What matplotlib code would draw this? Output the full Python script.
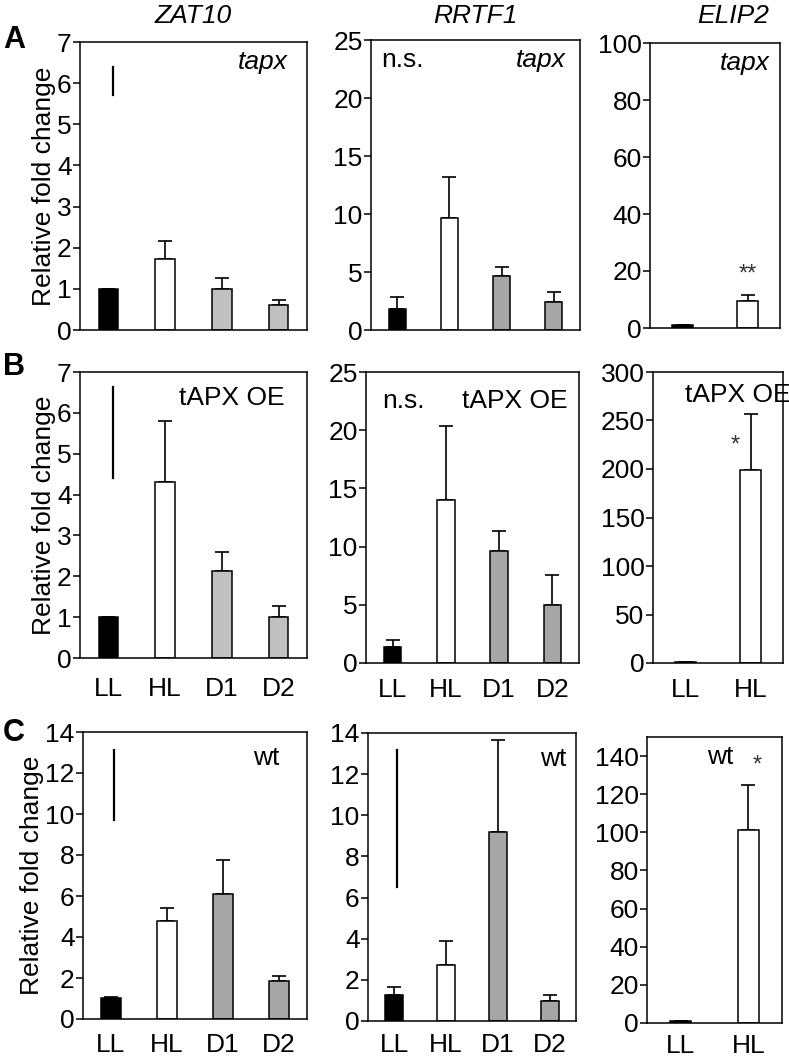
import matplotlib
matplotlib.use("Agg")
import matplotlib.pyplot as plt

plt.rcParams['font.family'] = ['Liberation Sans', 'DejaVu Sans']

# categories
cats4 = ['LL', 'HL', 'D1', 'D2']
cats2 = ['LL', 'HL']

# row A: tapx
zat10_tapx = [1.0, 1.72, 0.99, 0.61]
zat10_tapx_err = [0.0, 0.44, 0.27, 0.13]
rrtf1_tapx = [1.78, 9.68, 4.68, 2.39]
rrtf1_tapx_err = [1.04, 3.52, 0.78, 0.91]
elip2_tapx = [1.0, 9.4]
elip2_tapx_err = [0.0, 2.3]

# row B: tAPX OE
zat10_oe = [1.0, 4.31, 2.13, 1.0]
zat10_oe_err = [0.0, 1.48, 0.46, 0.27]
rrtf1_oe = [1.37, 14.0, 9.66, 4.95]
rrtf1_oe_err = [0.57, 6.34, 1.68, 2.64]
elip2_oe = [1.0, 198.9]
elip2_oe_err = [0.0, 58.0]

# row C: wt
zat10_wt = [1.01, 4.80, 6.11, 1.86]
zat10_wt_err = [0.08, 0.61, 1.66, 0.26]
rrtf1_wt = [1.28, 2.71, 9.18, 0.97]
rrtf1_wt_err = [0.38, 1.19, 4.50, 0.31]
elip2_wt = [1.0, 101.2]
elip2_wt_err = [0.0, 23.6]

# stray vertical marks (x, y bottom, y top)
vline_zat10_tapx = (0.08, 5.72, 6.39)
vline_zat10_oe = (0.08, 4.40, 6.63)
vline_zat10_wt = (0.05, 9.69, 13.14)
vline_rrtf1_wt = (0.06, 6.50, 13.19)

W, H = 789, 1064
fig = plt.figure(figsize=(W / 100, H / 100), dpi=100)


def rect(x0, x1, y0, y1):
    return [x0 / W, 1 - y1 / H, (x1 - x0) / W, (y1 - y0) / H]


FS = 19


def panel(r, vals, errs, cats, colors, ylim, yticks, xlabels, width, xpad=14):
    ax = fig.add_axes(rect(*r))
    x = list(range(len(cats)))
    ax.bar(x, vals, width=width, color=colors, edgecolor='black', linewidth=1.1, zorder=2)
    lower = [0] * len(errs)
    ax.errorbar(x, vals, yerr=[lower, errs], fmt='none', ecolor='black',
                elinewidth=1.2, capsize=5, capthick=1.2, zorder=1)
    ax.set_xlim(-0.5, len(cats) - 0.5)
    ax.set_ylim(*ylim)
    ax.set_yticks(yticks)
    ax.set_xticks(x)
    if xlabels:
        ax.set_xticklabels(cats)
    else:
        ax.set_xticklabels([])
    ax.tick_params(axis='x', length=0, pad=xpad, labelsize=FS)
    ax.tick_params(axis='y', length=5, width=1.1, pad=1, labelsize=FS, direction='out')
    for s in ax.spines.values():
        s.set_linewidth(1.1)
    return ax


light = '#c0c0c0'
dark = '#a6a6a6'
c4_light = ['black', 'white', light, light]
c4_dark = ['black', 'white', dark, dark]
c2 = ['black', 'white']

# ---- row A
a1 = panel((80, 307, 42, 330), zat10_tapx, zat10_tapx_err, cats4, c4_light,
           (0, 7), range(0, 8), False, 0.34)
a2 = panel((371, 580, 40, 330), rrtf1_tapx, rrtf1_tapx_err, cats4, c4_dark,
           (0, 25), range(0, 26, 5), False, 0.33)
a3 = panel((650, 780, 43, 328), elip2_tapx, elip2_tapx_err, cats2, c2,
           (0, 100), range(0, 101, 20), False, 0.31)

# ---- row B
b1 = panel((80, 307, 372, 658), zat10_oe, zat10_oe_err, cats4, c4_light,
           (0, 7), range(0, 8), True, 0.34, xpad=14)
b2 = panel((366, 579, 372, 663), rrtf1_oe, rrtf1_oe_err, cats4, c4_dark,
           (0, 25), range(0, 26, 5), True, 0.33, xpad=11)
b3 = panel((653, 783, 372, 663), elip2_oe, elip2_oe_err, cats2, c2,
           (0, 300), range(0, 301, 50), True, 0.31, xpad=11)

# ---- row C
c1 = panel((83, 307, 732, 1019), zat10_wt, zat10_wt_err, cats4, c4_dark,
           (0, 14), range(0, 15, 2), True, 0.34, xpad=10)
c2ax = panel((368, 576, 733, 1021), rrtf1_wt, rrtf1_wt_err, cats4, c4_dark,
             (0, 14), range(0, 15, 2), True, 0.33, xpad=9)
c3 = panel((647, 782, 737, 1023), elip2_wt, elip2_wt_err, cats2, c2,
           (0, 150), range(0, 141, 20), True, 0.31, xpad=8)

# vertical marks
for ax, (vx, vy0, vy1) in [(a1, vline_zat10_tapx), (b1, vline_zat10_oe),
                           (c1, vline_zat10_wt), (c2ax, vline_rrtf1_wt)]:
    ax.plot([vx, vx], [vy0, vy1], color='black', lw=1.6)

# y labels
for ax in (a1, b1, c1):
    ax.set_ylabel('Relative fold change', fontsize=FS, labelpad=1)

# in-panel labels
a1.text(0.916, 0.93, 'tapx', transform=a1.transAxes, ha='right', va='center', fontsize=FS, style='italic')
a2.text(0.93, 0.93, 'tapx', transform=a2.transAxes, ha='right', va='center', fontsize=FS, style='italic')
a2.text(0.05, 0.93, 'n.s.', transform=a2.transAxes, ha='left', va='center', fontsize=FS)
a3.text(0.92, 0.93, 'tapx', transform=a3.transAxes, ha='right', va='center', fontsize=FS, style='italic')
a3.text(1, 18.7, '**', ha='center', va='center', fontsize=17, color='#333333')

b1.text(0.67, 0.91, 'tAPX OE', transform=b1.transAxes, ha='center', va='center', fontsize=FS)
b2.text(0.075, 0.90, 'n.s.', transform=b2.transAxes, ha='left', va='center', fontsize=FS)
b2.text(0.45, 0.90, 'tAPX OE', transform=b2.transAxes, ha='left', va='center', fontsize=FS)
b3.text(0.65, 0.92, 'tAPX OE', transform=b3.transAxes, ha='center', va='center', fontsize=FS)
b3.text(0.76, 224, '*', ha='center', va='center', fontsize=17, color='#333333')

c1.text(0.82, 0.91, 'wt', transform=c1.transAxes, ha='center', va='center', fontsize=FS)
c2ax.text(0.89, 0.91, 'wt', transform=c2ax.transAxes, ha='center', va='center', fontsize=FS)
c3.text(0.54, 0.93, 'wt', transform=c3.transAxes, ha='center', va='center', fontsize=FS)
c3.text(1.13, 134.8, '*', ha='center', va='center', fontsize=17, color='#333333')

# gene titles
for gx, name in [(193, 'ZAT10'), (475, 'RRTF1'), (733, 'ELIP2')]:
    fig.text(gx / W, 1 - 16 / H, name, ha='center', va='center', fontsize=FS, style='italic')

# panel letters
for py, letter in [(40, 'A'), (367, 'B'), (733, 'C')]:
    fig.text(3 / W, 1 - py / H, letter, ha='left', va='center', fontsize=22, fontweight='bold')

fig.savefig('out.png', dpi=100)
